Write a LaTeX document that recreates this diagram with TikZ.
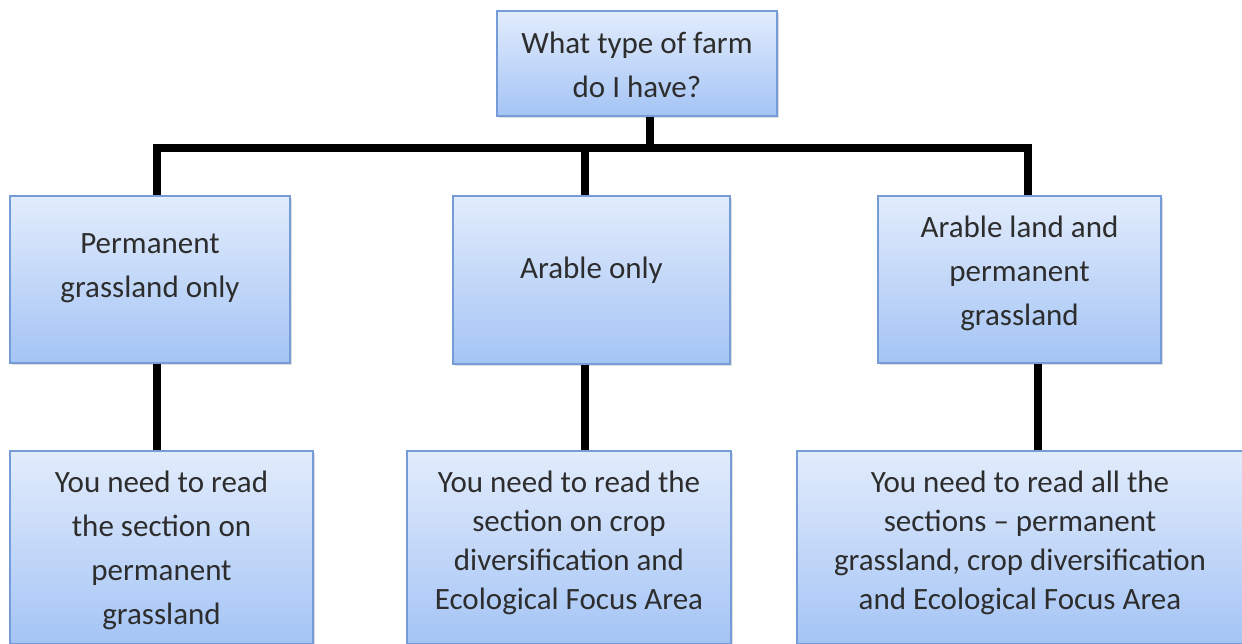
\documentclass[tikz,border=0pt]{standalone}
\usepackage{fontspec}
\setmainfont{Carlito}
\usetikzlibrary{shadows,calc}
\definecolor{boxtop}{RGB}{226,236,252}
\definecolor{boxbottom}{RGB}{164,196,245}
\definecolor{boxline}{RGB}{118,156,215}
\definecolor{boxtext}{RGB}{45,45,45}

\begin{document}
\begin{tikzpicture}[x=0.5pt,y=-0.5pt,
	box/.style={rectangle, draw=boxline, line width=0.8pt, top color=boxtop, bottom color=boxbottom,
		drop shadow={shadow xshift=1pt, shadow yshift=-1.2pt, opacity=0.25}},
	txt/.style={align=center, text=boxtext, font=\fontsize{15.5pt}{22pt}\selectfont},
	tight/.style={txt, font=\fontsize{15.5pt}{19.4pt}\selectfont},
	link/.style={line width=4pt, black}]
			\useasboundingbox (0,0) rectangle (1242,643);
			
			\node[box, minimum width=140pt, minimum height=52.5pt, label={[txt, yshift=-0.5pt]center:What type of farm\\do I have?}] (farm) at (637,63.5) {};
			
			\node[box, minimum width=140pt, minimum height=83.5pt, label={[txt, yshift=5.75pt]center:Permanent\\grassland only}] (grass) at (150,279.5) {};
			\node[box, minimum width=138.5pt, minimum height=84pt, label={[txt, yshift=5pt]center:Arable only}] (arable) at (591.5,280) {};
			\node[box, minimum width=141.5pt, minimum height=83.5pt, label={[txt, yshift=3.25pt]center:Arable land and\\permanent\\grassland}] (mixed) at (1019.5,279.5) {};
			
			\node[box, minimum width=151.5pt, minimum height=96.5pt, label={[txt, yshift=-1.5pt]center:You need to read\\the section on\\permanent\\grassland}] (readgrass) at (161.5,547.5) {};
			\node[box, minimum width=162pt, minimum height=96.5pt, label={[tight, yshift=2.25pt]center:You need to read the\\section on crop\\diversification and\\Ecological Focus Area}] (readarable) at (569,547.5) {};
			\node[box, minimum width=223pt, minimum height=96.5pt, label={[tight, yshift=2.25pt]center:You need to read all the\\sections \textendash{} permanent\\grassland, crop diversification\\and Ecological Focus Area}] (readall) at (1020,547.5) {};
			
			\coordinate (bus) at (650,148);
			\coordinate (s1) at (157,148);
			\coordinate (s2) at (585,148);
			\coordinate (s3) at (1028,148);
			\coordinate (t3) at (1038,148);
			
			\draw[link] (farm.south -| bus) -- (bus);
			\draw[link] (grass.north -| s1) -- (s1) -- (s3) -- (mixed.north -| s3);
			\draw[link] (s2) -- (arable.north -| s2);
			
			\draw[link] (grass.south -| s1) -- (readgrass.north -| s1);
			\draw[link] (arable.south -| s2) -- (readarable.north -| s2);
			\draw[link] (mixed.south -| t3) -- (readall.north -| t3);
\end{tikzpicture}
\end{document}
